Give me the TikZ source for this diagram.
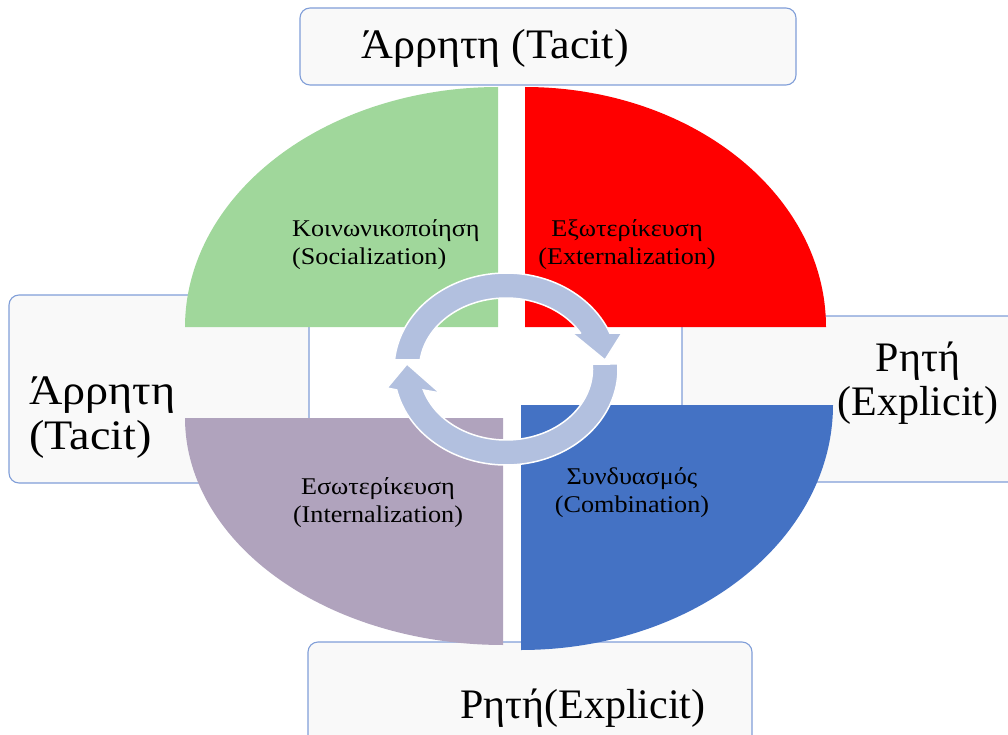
\documentclass[tikz,border=0pt]{standalone}
\usepackage{fontspec}
\setmainfont{Liberation Serif}
\newfontfamily\wideS[FakeStretch=1.09]{Liberation Serif}
\newfontfamily\wideL[FakeStretch=1.1]{Liberation Serif}
\newfontfamily\wideT[FakeStretch=1.05]{Liberation Serif}
\begin{document}
\begin{tikzpicture}[x=1pt,y=-1pt]
\definecolor{greenq}{RGB}{160,215,155}
\definecolor{redq}{RGB}{255,0,0}
\definecolor{purpq}{RGB}{176,163,189}
\definecolor{blueq}{RGB}{68,114,196}
\definecolor{ringc}{RGB}{178,192,223}
\definecolor{boxf}{RGB}{249,249,249}
\definecolor{boxd}{RGB}{128,158,216}
\tikzset{
  box/.style={draw=boxd, fill=boxf, line width=1.1pt, rounded corners=10pt},
  ring/.style={fill=ringc, draw=white, line width=1.5pt, line join=miter},
  big/.style={inner sep=0pt, font=\fontsize{42}{44}\selectfont, text=black},
  small/.style={inner sep=0pt, font=\wideS\fontsize{24}{28}\selectfont, text=black, align=center}
}
\useasboundingbox (0,0) rectangle (1008,735);
% boxes
\path[box] (300,8) rectangle (796,85);
\path[box] (9,295) rectangle (309,483);
\path[box] (682,316) rectangle (1040,482);
\path[box] (308,642) rectangle (752,770);
% quadrants
\fill[greenq] (498,327) -- plot[domain=90:180,samples=80] ({498+313*cos(\x)},{327-240*sin(\x)}) -- cycle;
\fill[redq] (525,327) -- plot[domain=90:0,samples=80] ({525+301*cos(\x)},{327-240*sin(\x)}) -- cycle;
\fill[purpq] (503,418) -- plot[domain=180:270,samples=80] ({503+318*cos(\x)},{418-227*sin(\x)}) -- cycle;
\fill[blueq] (521,405) -- plot[domain=270:360,samples=80] ({521+312*cos(\x)},{405-245*sin(\x)}) -- cycle;
% labels in quadrants
\node[small, align=left, anchor=west] (soc) at (292,245) {Κοινωνικοποίηση\\(Socialization)};
\node[small] (ext) at (627,245) {Εξωτερίκευση\\(Externalization)};
\node[small] (int) at (378,503) {Εσωτερίκευση\\(Internalization)};
\node[small] (com) at (632,493) {Συνδυασμός\\(Combination)};
% cycle arrows
\path[ring] plot[domain=174.6:22,samples=60] ({506+112*cos(\x)},{369-96*sin(\x)})
  -- (622,333) -- (605,360) -- (572,333) -- (580.5,333)
  -- plot[domain=30.5:172.7,samples=60] ({506+86.5*cos(\x)},{369-71*sin(\x)}) -- cycle;
\path[ring] plot[domain=3:-167.4,samples=80] ({506+112*cos(\x)},{369-96*sin(\x)})
  -- (387,388) -- (407,364) -- (440,393) -- (423.4,390)
  -- plot[domain=-162.8:4,samples=80] ({506+86.5*cos(\x)},{369-71*sin(\x)}) -- cycle;
% box labels
\node[big, font=\wideT\fontsize{42}{44}\selectfont] (top) at (495,48) {Άρρητη (Tacit)};
\node[big, font=\wideL\fontsize{42}{45}\selectfont, align=left, anchor=west] (left) at (29,418) {Άρρητη\\(Tacit)};
\node[big, align=center] (right) at (918,383) {Ρητή\\(Explicit)};
\node[big] (bottom) at (583,708) {Ρητή(Explicit)};
\end{tikzpicture}
\end{document}
